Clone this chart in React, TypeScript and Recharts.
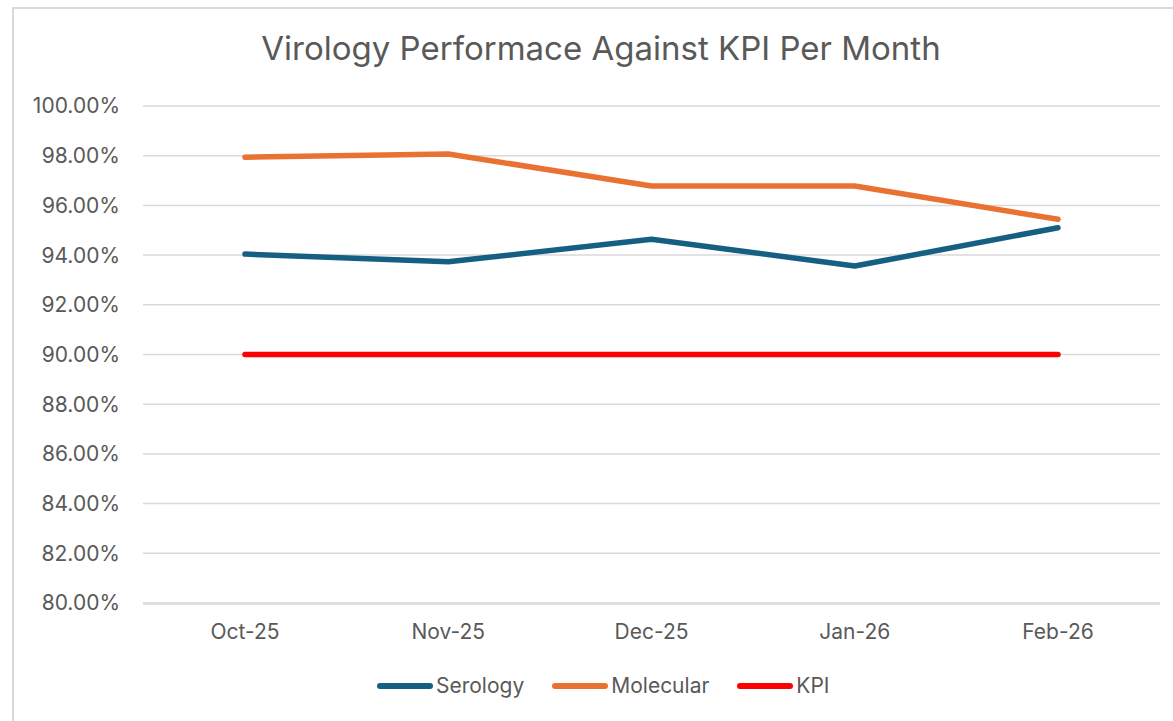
import { LineChart, Line, XAxis, YAxis, CartesianGrid } from "recharts";

// values, in percent
const months = ["Oct-25", "Nov-25", "Dec-25", "Jan-26", "Feb-26"];
const serology = [94.04, 93.73, 94.64, 93.56, 95.1];
const molecular = [97.94, 98.07, 96.78, 96.78, 95.44];
const kpi = [90, 90, 90, 90, 90];
const yTicks = [80, 82, 84, 86, 88, 90, 92, 94, 96, 98, 100];
const edgeTicks = [0, 1, 2, 3, 4, 5];

const series = [
    { key: "serology", name: "Serology", color: "#156082", values: serology },
    { key: "molecular", name: "Molecular", color: "#E97132", values: molecular },
    { key: "kpi", name: "KPI", color: "#FF0000", values: kpi },
];

const font = "Inter, 'Open Sans', sans-serif";
const textColor = "#595959";
const gridColor = "#D9D9D9";

const chartData = months.map((month, i) => {
    const row: Record<string, string | number> = { month };
    series.forEach(s => {
        row[s.key] = s.values[i];
    });
    return row;
});

export default function App() {
    return (
        <div
            style={{
                position: "absolute",
                left: 0,
                top: 0,
                width: 1173,
                height: 721,
                overflow: "hidden",
                background: "#fff",
                fontFamily: font,
            }}
        >
            <div
                style={{
                    position: "absolute",
                    left: 12,
                    top: 7,
                    width: 1220,
                    height: 760,
                    border: `2px solid ${gridColor}`,
                    boxSizing: "border-box",
                }}
            />
            <div
                style={{
                    position: "absolute",
                    left: 601,
                    top: 31,
                    transform: "translateX(-50%)",
                    whiteSpace: "nowrap",
                    fontSize: 33,
                    lineHeight: "34px",
                    color: textColor,
                }}
            >
                Virology Performace Against KPI Per Month
            </div>
            <div style={{ position: "absolute", left: 0, top: 0 }}>
                <LineChart
                    width={1173}
                    height={721}
                    data={chartData}
                    margin={{ top: 106, right: 13, left: 0, bottom: 116 }}
                >
                    <CartesianGrid
                        xAxisId="cat"
                        vertical={false}
                        stroke={gridColor}
                        strokeWidth={1.5}
                    />
                    <XAxis
                        xAxisId="edge"
                        type="number"
                        domain={[0, 5]}
                        ticks={edgeTicks}
                        allowDataOverflow
                        height={1}
                        tick={false}
                        tickSize={7}
                        tickLine={{ stroke: gridColor, strokeWidth: 1.5 }}
                        axisLine={{ stroke: gridColor, strokeWidth: 1.5 }}
                    />
                    <XAxis
                        xAxisId="cat"
                        dataKey="month"
                        height={1}
                        padding={{ left: 102, right: 102 }}
                        axisLine={false}
                        tickLine={false}
                        tickSize={0}
                        tickMargin={21}
                        tick={{ fill: textColor, fontSize: 21, fontFamily: font }}
                    />
                    <YAxis
                        width={143}
                        domain={[80, 100]}
                        ticks={yTicks}
                        axisLine={false}
                        tickLine={false}
                        tickSize={0}
                        tickMargin={23}
                        tick={{ fill: textColor, fontSize: 21, fontFamily: font }}
                        tickFormatter={(v: number) => `${v.toFixed(2)}%`}
                    />
                    {series.map(s => (
                        <Line
                            key={s.key}
                            xAxisId="cat"
                            type="linear"
                            dataKey={s.key}
                            name={s.name}
                            stroke={s.color}
                            strokeWidth={5.5}
                            strokeLinecap="round"
                            strokeLinejoin="round"
                            dot={false}
                            activeDot={false}
                            isAnimationActive={false}
                        />
                    ))}
                </LineChart>
            </div>
            <div
                style={{
                    position: "absolute",
                    left: 377,
                    top: 673,
                    display: "flex",
                    alignItems: "center",
                    gap: 28,
                    lineHeight: "26px",
                    fontSize: 21,
                    color: textColor,
                }}
            >
                {series.map(s => (
                    <div key={s.key} style={{ display: "flex", alignItems: "center" }}>
                        <span
                            style={{
                                display: "inline-block",
                                width: 56,
                                height: 6,
                                borderRadius: 3,
                                background: s.color,
                                marginRight: 3,
                            }}
                        />
                        <span>{s.name}</span>
                    </div>
                ))}
            </div>
        </div>
    );
}
